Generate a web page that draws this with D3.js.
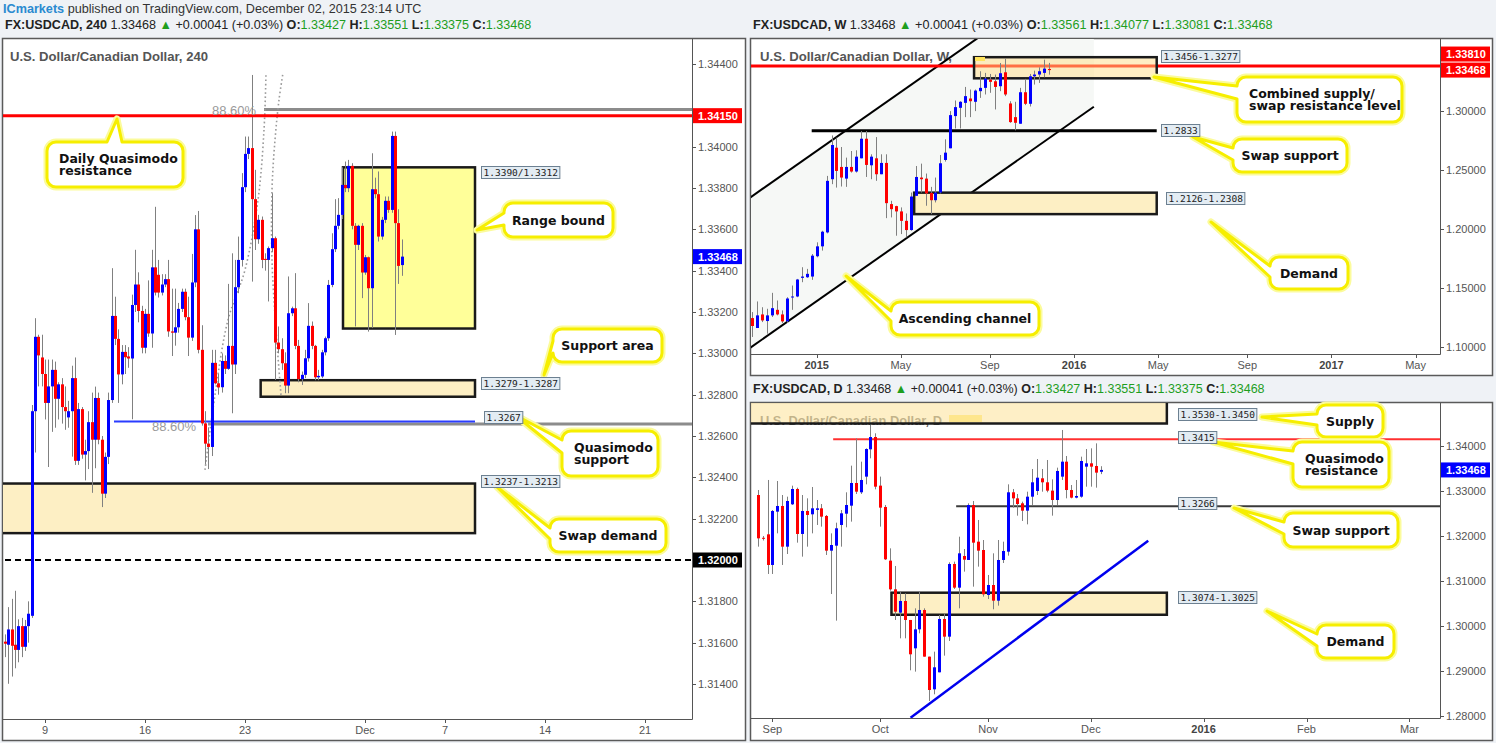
<!DOCTYPE html>
<html>
<head>
<meta charset="utf-8">
<script src="https://cdn.jsdelivr.net/npm/d3@7"></script>
<style>
html,body{margin:0;padding:0;background:#eff2f6;}
svg{display:block;}
</style>
</head>
<body>
<svg id="chart" width="1496" height="743"></svg>
<script>
// ======================= DATA =======================
// 4H candles (USDCAD, ~Nov 5 - Dec 2 2015)
const h4Open  = [1.31605,1.31590,1.31664,1.31590,1.31565,1.31680,1.31580,1.31680,1.31730,1.32720,1.33080,1.32980,1.32900,1.32760,1.32840,1.32920,1.32780,1.32850,1.32740,1.32690,1.32720,1.32880,1.32480,1.32730,1.32510,1.32527,1.32667,1.32582,1.32784,1.32582,1.32321,1.32499,1.32774,1.33181,1.33070,1.32898,1.33007,1.32985,1.32975,1.33234,1.33333,1.33205,1.33027,1.33191,1.33096,1.33416,1.33380,1.33294,1.33333,1.33359,1.33106,1.33100,1.33126,1.33215,1.33298,1.33175,1.33076,1.33343,1.33600,1.33017,1.32661,1.32563,1.32547,1.32954,1.32855,1.32836,1.32963,1.32925,1.33036,1.32946,1.33320,1.33452,1.33804,1.33965,1.33993,1.33746,1.33552,1.33646,1.33457,1.33452,1.33509,1.33557,1.33052,1.33020,1.32952,1.32844,1.33194,1.33218,1.33036,1.32875,1.32896,1.32976,1.33133,1.33036,1.32884,1.32888,1.33005,1.33073,1.33331,1.33504,1.33617,1.33670,1.33815,1.33799,1.33907,1.33617,1.33525,1.33617,1.33391,1.33465,1.33315,1.33794,1.33770,1.33565,1.33646,1.33738,1.33694,1.34052,1.33630,1.33427];
const h4High  = [1.31640,1.31772,1.31812,1.31851,1.31713,1.31720,1.31710,1.31800,1.32750,1.33170,1.33090,1.33090,1.32970,1.32970,1.32970,1.32960,1.32860,1.32880,1.32840,1.32770,1.32940,1.32980,1.32760,1.32740,1.32582,1.32720,1.32810,1.32839,1.32810,1.32600,1.32520,1.32810,1.33412,1.33274,1.33116,1.33040,1.33040,1.33030,1.33284,1.33501,1.33392,1.33230,1.33215,1.33353,1.33501,1.33709,1.33452,1.33383,1.33383,1.33452,1.33313,1.33313,1.33244,1.33313,1.33313,1.33274,1.33481,1.33669,1.33689,1.33136,1.32720,1.32642,1.33017,1.33017,1.32900,1.33000,1.32990,1.33336,1.33484,1.33452,1.33565,1.33872,1.34049,1.34049,1.34347,1.33888,1.33670,1.33662,1.33484,1.33517,1.33775,1.33565,1.33130,1.33073,1.33005,1.33372,1.33226,1.33388,1.33065,1.32912,1.33017,1.33243,1.33154,1.33041,1.32920,1.33017,1.33081,1.33355,1.33581,1.33746,1.33751,1.33900,1.33928,1.33936,1.33920,1.33630,1.33622,1.33630,1.33476,1.33468,1.33968,1.33850,1.33880,1.33660,1.33759,1.33759,1.34073,1.34073,1.33697,1.33551];
const h4Low   = [1.31530,1.31401,1.31436,1.31476,1.31505,1.31530,1.31560,1.31600,1.31720,1.32520,1.32840,1.32840,1.32680,1.32450,1.32620,1.32640,1.32680,1.32660,1.32630,1.32640,1.32500,1.32460,1.32460,1.32490,1.32385,1.32440,1.32325,1.32444,1.32560,1.32256,1.32300,1.32464,1.32760,1.33040,1.32760,1.32850,1.32900,1.32930,1.32681,1.33200,1.33150,1.33000,1.33000,1.33080,1.33027,1.33280,1.33270,1.33280,1.33320,1.33080,1.32987,1.33037,1.33100,1.33200,1.33160,1.32987,1.33060,1.33320,1.33000,1.32650,1.32464,1.32440,1.32503,1.32850,1.32800,1.32810,1.32900,1.32920,1.32710,1.32900,1.33291,1.33420,1.33780,1.33940,1.33347,1.33500,1.33530,1.33412,1.33400,1.33251,1.33490,1.32871,1.33000,1.32920,1.32807,1.32807,1.33180,1.33020,1.32860,1.32847,1.32880,1.32960,1.33020,1.32870,1.32870,1.32880,1.32990,1.33060,1.33320,1.33490,1.33600,1.33650,1.33780,1.33780,1.33600,1.33130,1.33500,1.33267,1.33380,1.33105,1.33122,1.33750,1.33541,1.33550,1.33630,1.33680,1.33680,1.33089,1.33336,1.33375];
const h4Close = [1.31595,1.31664,1.31585,1.31565,1.31680,1.31580,1.31680,1.31740,1.32720,1.33080,1.32990,1.32900,1.32760,1.32840,1.32920,1.32780,1.32850,1.32740,1.32720,1.32720,1.32880,1.32480,1.32730,1.32510,1.32527,1.32667,1.32582,1.32784,1.32582,1.32321,1.32499,1.32774,1.33181,1.33070,1.32898,1.33007,1.32981,1.32975,1.33234,1.33333,1.33205,1.33027,1.33191,1.33096,1.33416,1.33294,1.33294,1.33333,1.33359,1.33106,1.33100,1.33126,1.33215,1.33298,1.33175,1.33076,1.33343,1.33600,1.33017,1.32661,1.32563,1.32547,1.32954,1.32855,1.32835,1.32963,1.32925,1.33036,1.32946,1.33320,1.33452,1.33804,1.33965,1.33993,1.33746,1.33552,1.33646,1.33452,1.33452,1.33509,1.33557,1.33052,1.33020,1.32952,1.32844,1.33194,1.33218,1.33036,1.32875,1.32896,1.32976,1.33133,1.33036,1.32884,1.32891,1.33005,1.33073,1.33331,1.33504,1.33617,1.33670,1.33815,1.33799,1.33907,1.33617,1.33525,1.33617,1.33391,1.33465,1.33315,1.33794,1.33770,1.33565,1.33646,1.33738,1.33694,1.34052,1.33630,1.33423,1.33468];
const h4TickLabels = ["9","16","23","Dec","7","14","21"];
const h4TickIdx    = [12,42,72,108,132,162,192];
const h4PriceTicks = [1.314,1.316,1.318,1.320,1.322,1.324,1.326,1.328,1.330,1.332,1.334,1.336,1.338,1.340,1.342,1.344];

// Weekly candles (Oct 2014 - Nov 30 2015)
const wkOpen  = [1.1245,1.1161,1.1276,1.1220,1.1268,1.1315,1.1276,1.1217,1.1422,1.1428,1.1586,1.1591,1.1597,1.1769,1.1853,1.1971,1.2422,1.2689,1.2526,1.2427,1.2526,1.2487,1.2599,1.2765,1.2540,1.2599,1.2464,1.2560,1.2211,1.2194,1.2149,1.2069,1.1991,1.2281,1.2436,1.2427,1.2306,1.2244,1.2309,1.2585,1.2684,1.2957,1.3027,1.3069,1.3106,1.3078,1.3168,1.3196,1.3266,1.3252,1.3210,1.3328,1.3064,1.2948,1.2892,1.3159,1.3061,1.3294,1.3309,1.3323,1.33561];
const wkHigh  = [1.1296,1.1386,1.1337,1.1324,1.1459,1.1394,1.1310,1.1422,1.1521,1.1577,1.1676,1.1662,1.1788,1.1887,1.1985,1.2450,1.2793,1.2774,1.2695,1.2605,1.2661,1.2667,1.2830,1.2830,1.2633,1.2779,1.2633,1.2633,1.2239,1.2197,1.2183,1.2132,1.2309,1.2534,1.2554,1.2470,1.2357,1.2436,1.2627,1.2760,1.2999,1.3089,1.3083,1.3204,1.3182,1.3182,1.3337,1.3323,1.3314,1.3309,1.3407,1.3444,1.3083,1.3078,1.3196,1.3272,1.3314,1.3342,1.3370,1.3435,1.34077];
const wkLow   = [1.1085,1.1161,1.1211,1.1113,1.1254,1.1268,1.1203,1.1203,1.1315,1.1422,1.1549,1.1586,1.1569,1.1760,1.1817,1.1963,1.2380,1.2351,1.2360,1.2357,1.2478,1.2478,1.2599,1.2441,1.2422,1.2408,1.2464,1.2092,1.2098,1.1943,1.1957,1.1929,1.1985,1.2281,1.2309,1.2197,1.2126,1.2225,1.2301,1.2571,1.2684,1.2852,1.2852,1.2948,1.2948,1.2999,1.3111,1.3140,1.3154,1.3013,1.3168,1.3126,1.2900,1.2836,1.2892,1.3050,1.3038,1.3224,1.3238,1.3286,1.33081];
const wkClose = [1.1178,1.1268,1.1225,1.1268,1.1329,1.1276,1.1217,1.1411,1.1428,1.1572,1.1597,1.1620,1.1774,1.1853,1.1977,1.2408,1.2712,1.2492,1.2436,1.2526,1.2487,1.2613,1.2765,1.2543,1.2613,1.2464,1.2560,1.2219,1.2168,1.2149,1.2069,1.1991,1.2275,1.2441,1.2422,1.2301,1.2244,1.2309,1.2557,1.2647,1.2965,1.3033,1.3078,1.3126,1.3083,1.3173,1.3196,1.3275,1.3247,1.3204,1.3320,1.3140,1.2906,1.2900,1.3159,1.3061,1.3294,1.3309,1.3337,1.3359,1.33468];
const wkTickLabels = ["2015","May","Sep","2016","May","Sep","2017","May"];
const wkTickIdx    = [13,30,48,65,82,100,117,134];
const wkPriceTicks = [1.10,1.15,1.20,1.25,1.30];

// Daily candles (Aug 27 - Dec 3 2015)
const dOpen  = [1.32911,1.31960,1.32037,1.31356,1.32541,1.32667,1.31763,1.32704,1.33045,1.32045,1.32556,1.32482,1.32580,1.32615,1.32445,1.31674,1.31785,1.32245,1.32496,1.32674,1.33178,1.32971,1.33319,1.33926,1.34200,1.33119,1.32645,1.31452,1.30815,1.30297,1.30556,1.30134,1.29504,1.29926,1.30356,1.29319,1.28593,1.28971,1.30156,1.29763,1.31378,1.30852,1.31556,1.31467,1.32689,1.31874,1.31689,1.30689,1.30911,1.30563,1.31467,1.31652,1.32971,1.32837,1.32726,1.32563,1.32874,1.33000,1.33282,1.33193,1.33008,1.32800,1.33319,1.33652,1.33022,1.32852,1.32874,1.33541,1.33615,1.33556,1.33427];
const dHigh  = [1.33022,1.32000,1.33245,1.32578,1.33222,1.32911,1.32874,1.33119,1.33074,1.32911,1.32837,1.33089,1.32800,1.32711,1.32467,1.32059,1.32296,1.32578,1.32971,1.33563,1.34170,1.33652,1.33948,1.34467,1.34282,1.33320,1.32689,1.31726,1.31334,1.30763,1.30726,1.30134,1.30393,1.30778,1.30393,1.29319,1.29430,1.30245,1.30282,1.31415,1.31430,1.31985,1.31711,1.32726,1.32778,1.32356,1.31911,1.31134,1.31615,1.31911,1.31874,1.33148,1.33045,1.32934,1.32763,1.32985,1.33489,1.33711,1.33489,1.33689,1.33259,1.33519,1.34356,1.33778,1.33133,1.33245,1.33763,1.33933,1.33948,1.34059,1.33551];
const dLow   = [1.31763,1.31900,1.31156,1.31156,1.32059,1.31356,1.31600,1.32689,1.31852,1.31541,1.31763,1.32059,1.32245,1.32208,1.31578,1.30711,1.30119,1.31763,1.32193,1.32319,1.32934,1.32934,1.33148,1.33726,1.33037,1.32208,1.31467,1.30785,1.30134,1.29726,1.29726,1.29015,1.28986,1.29837,1.29319,1.28334,1.28482,1.28971,1.29341,1.29667,1.30822,1.30393,1.31208,1.31467,1.30874,1.31319,1.30652,1.30600,1.30371,1.30452,1.31400,1.31563,1.32630,1.32452,1.32334,1.32259,1.32689,1.32911,1.32985,1.32971,1.32452,1.32689,1.33245,1.32837,1.32837,1.32837,1.32852,1.33096,1.33096,1.33074,1.33375];
const dClose = [1.31948,1.31940,1.31356,1.32556,1.32667,1.31763,1.32778,1.33045,1.32045,1.32556,1.32467,1.32615,1.32615,1.32430,1.31674,1.31800,1.32171,1.32504,1.32689,1.33178,1.32985,1.33245,1.33933,1.34200,1.33096,1.32630,1.31482,1.30815,1.30319,1.30556,1.30134,1.29371,1.29926,1.30356,1.29319,1.28578,1.29082,1.30156,1.29763,1.31378,1.30852,1.31615,1.31474,1.32689,1.31852,1.31674,1.30704,1.30911,1.30563,1.31467,1.31667,1.32971,1.32837,1.32711,1.32563,1.32874,1.33193,1.33296,1.33193,1.33008,1.32800,1.33445,1.33652,1.33022,1.32852,1.32889,1.33667,1.33615,1.33541,1.33408,1.33468];
const dTickLabels = ["Sep","Oct","Nov","Dec","2016","Feb","Mar"];
const dTickIdx    = [3,25,47,68,91,112,133];
const dPriceTicks = [1.28,1.29,1.30,1.31,1.32,1.33,1.34];

// Levels / zones
const h4Zones   = [[1.3390,1.3312],[1.3287,1.3279],[1.3237,1.3213]];   // range, support area, swap demand
const h4Lines   = [1.3415, 1.3418, 1.32658, 1.3267, 1.3200];           // QM res, 88.6 upper, 88.6 lower, QM support, round
const wkZones   = [[1.3456,1.3277],[1.2308,1.2126]];
const wkLines   = [1.3381, 1.2833];
const wkChannelUpper = [[-0.5,1.2265],[45,1.3602]];
const wkChannelLower = [[-0.5,1.0991],[69,1.3036]];
const dZones    = [[1.3530,1.3450],[1.3074,1.3025]];
const dLines    = [1.3415, 1.3266];
const dTrend    = [[31.2,1.27962],[79.7,1.31896]];
const lastPrice = 1.33468;

// ======================= RENDER =======================
const svg = d3.select('#chart');
const FONT = "'Liberation Sans', Arial, sans-serif";
const CFONT = "'DejaVu Sans', Verdana, sans-serif";
const MONO = "'DejaVu Sans Mono', 'Liberation Mono', monospace";
const UP = '#0000ff', DOWN = '#ff0000', WICK = '#808080';
const GREEN = '#1e9e1e';
const f5 = d3.format('.5f');

svg.append('rect').attr('width',1496).attr('height',743).attr('fill','#eff2f6');

function fitWidth(t, w) {
  t.attr('textLength', w).attr('lengthAdjust','spacingAndGlyphs');
}
// rich text stretched horizontally to a target width via a group transform
function richText(x, y, parts, targetW) {
  const g = svg.append('g');
  const t = g.append('text').attr('x',0).attr('y',0)
    .attr('font-family',FONT).attr('font-size',13).attr('style','white-space:pre');
  parts.forEach(p => t.append('tspan').text(p[0]).attr('fill',p[1]||'#222').attr('font-weight',p[2]||'normal'));
  const w = t.node().getComputedTextLength() || targetW;
  const s = targetW ? targetW / w : 1;
  g.attr('transform', `translate(${x},${y}) scale(${s},1)`);
  return g;
}
function legend(x, y, sym, o, h, l, c, w) {
  richText(x, y, [[sym,'#222','bold'],[' 1.33468 ','#222'],['\u25B2',GREEN],[' +0.00041 (+0.03%) ','#222'],
    ['O:','#222','bold'],[o,GREEN],[' H:','#222','bold'],[h,GREEN],[' L:','#222','bold'],[l,GREEN],[' C:','#222','bold'],[c,GREEN]], w);
}
richText(3, 12.5, [['ICmarkets','#2a8ad0','bold'],[' published on TradingView.com, December 02, 2015 23:14 UTC','#333']], 419);
legend(5, 28.5, 'FX:USDCAD, 240', '1.33427','1.33551','1.33375','1.33468', 527);
legend(753, 28.5, 'FX:USDCAD, W', '1.33561','1.34077','1.33081','1.33468', 520);
legend(753, 392.5, 'FX:USDCAD, D', '1.33427','1.33551','1.33375','1.33468', 512);

function panel(id, outer, plot) {
  svg.append('rect').attr('x',outer.x+0.5).attr('y',outer.y+0.5).attr('width',outer.w).attr('height',outer.h)
    .attr('fill','#fff').attr('stroke','#5a5a5a').attr('stroke-width',1.5);
  svg.append('clipPath').attr('id','clip-'+id).append('rect')
    .attr('x',plot.x0).attr('y',plot.y0).attr('width',plot.x1-plot.x0).attr('height',plot.y1-plot.y0);
  return svg.append('g').attr('clip-path',`url(#clip-${id})`);
}

function drawCandles(g, O, Hh, Lo, C, x, y, bw) {
  const idx = d3.range(O.length);
  g.append('g').selectAll('line').data(idx).join('line')
    .attr('x1', i => Math.round(x(i)) + 0.5).attr('x2', i => Math.round(x(i)) + 0.5)
    .attr('y1', i => y(Hh[i])).attr('y2', i => y(Lo[i]))
    .attr('stroke', WICK).attr('stroke-width', 1);
  g.append('g').selectAll('rect').data(idx).join('rect')
    .attr('x', i => Math.round(x(i)) + 0.5 - bw/2)
    .attr('y', i => y(Math.max(O[i], C[i])))
    .attr('width', bw)
    .attr('height', i => Math.max(1, Math.abs(y(O[i]) - y(C[i]))))
    .attr('fill', i => C[i] >= O[i] ? UP : DOWN);
}

function zone(g, x, y, i0, i1, top, bot, fill, op) {
  g.append('rect').attr('x', x(i0)).attr('y', y(top)).attr('width', x(i1)-x(i0)).attr('height', y(bot)-y(top))
    .attr('fill', fill).attr('fill-opacity', op==null?1:op).attr('stroke','#1a1a1a').attr('stroke-width',2.5);
}
function hline(g, x, y, i0, i1, v, color, w, dash) {
  const l = g.append('line').attr('x1', x(i0)).attr('x2', x(i1)).attr('y1', y(v)).attr('y2', y(v))
    .attr('stroke', color).attr('stroke-width', w);
  if (dash) l.attr('stroke-dasharray', dash);
}

function axes(plot, x, y, priceTicks, tags, tIdx, tLabels, bold, right) {
  svg.append('line').attr('x1',plot.x1+0.5).attr('x2',plot.x1+0.5).attr('y1',plot.y0).attr('y2',plot.y1+0.5).attr('stroke','#555');
  svg.append('line').attr('x1',plot.x0).attr('x2',plot.x1+0.5).attr('y1',plot.y1+0.5).attr('y2',plot.y1+0.5).attr('stroke','#555');
  const tagYs = tags.map(t => y(t.v) + (t.off||0));
  priceTicks.forEach(v => {
    const yy = y(v);
    if (yy < plot.y0 + 3 || yy > plot.y1 + 4) return;
    if (tagYs.some(t => Math.abs(t - yy) < 12)) return;
    svg.append('line').attr('x1',plot.x1).attr('x2',plot.x1+4).attr('y1',Math.round(yy)+0.5).attr('y2',Math.round(yy)+0.5).attr('stroke','#555');
    svg.append('text').attr('x',plot.x1+6).attr('y',yy).attr('dy','0.35em').attr('font-family',FONT).attr('font-size',11).attr('fill','#555').text(f5(v));
  });
  tags.forEach((t,k) => {
    const yy = tagYs[k];
    svg.append('rect').attr('x',plot.x1+1).attr('y',yy-7.5).attr('width',right-plot.x1-1).attr('height',15).attr('fill',t.c);
    svg.append('text').attr('x',plot.x1+6).attr('y',yy).attr('dy','0.36em').attr('font-family',FONT).attr('font-size',11)
      .attr('font-weight','bold').attr('fill','#fff').text(f5(t.v));
  });
  tIdx.forEach((v,k) => {
    const xx = x(v);
    if (xx < plot.x0 || xx > plot.x1) return;
    svg.append('line').attr('x1',Math.round(xx)+0.5).attr('x2',Math.round(xx)+0.5).attr('y1',plot.y1).attr('y2',plot.y1+4).attr('stroke','#555');
    const isB = bold && /^\d{4}$/.test(tLabels[k]);
    svg.append('text').attr('x',xx).attr('y',plot.y1+11).attr('dy','0.35em').attr('text-anchor','middle')
      .attr('font-family',FONT).attr('font-size',11).attr('font-weight',isB?'bold':'normal').attr('fill',isB?'#444':'#555').text(tLabels[k]);
  });
}

function priceLabel(x, y, text) {
  const w = text.length * 5.72 + 4;
  svg.append('rect').attr('x',x+0.5).attr('y',y+0.5).attr('width',w).attr('height',12).attr('fill','#e3ecf3').attr('stroke','#6c8091');
  svg.append('text').attr('x',x+2.5).attr('y',y+6.8).attr('dy','0.35em').attr('font-family',MONO).attr('font-size',9.5).attr('fill','#222').text(text);
}

function calloutPath(x,y,w,h,r,side,a1,a2,tip){
  let p = `M${x+r},${y}`;
  if (side==='top') p += `L${x+a1},${y}L${tip[0]},${tip[1]}L${x+a2},${y}`;
  p += `L${x+w-r},${y}A${r},${r} 0 0 1 ${x+w},${y+r}`;
  p += `L${x+w},${y+h-r}A${r},${r} 0 0 1 ${x+w-r},${y+h}`;
  p += `L${x+r},${y+h}A${r},${r} 0 0 1 ${x},${y+h-r}`;
  if (side==='left') p += `L${x},${y+a2}L${tip[0]},${tip[1]}L${x},${y+a1}`;
  p += `L${x},${y+r}A${r},${r} 0 0 1 ${x+r},${y}Z`;
  return p;
}
function callout(c) {
  const d = calloutPath(c.x,c.y,c.w,c.h,9,c.side,c.a1,c.a2,c.tip);
  svg.append('path').attr('d',d).attr('fill','none').attr('stroke','#fbfb9c').attr('stroke-width',7).attr('stroke-linejoin','round');
  svg.append('path').attr('d',d).attr('fill','#fff').attr('stroke','#f6ee00').attr('stroke-width',3).attr('stroke-linejoin','round');
  const lh = 12.5, n = c.lines.length;
  c.lines.forEach((s,k) => {
    svg.append('text')
      .attr('x', c.align==='start' ? c.x + 12 : c.x + c.w/2)
      .attr('y', c.y + c.h/2 + (k - (n-1)/2) * lh)
      .attr('dy','0.36em').attr('text-anchor', c.align==='start' ? 'start' : 'middle')
      .attr('font-family',CFONT).attr('font-size',12.5).attr('font-weight','bold').attr('fill','#111').text(s);
  });
}

// ---------------- LEFT: 4H ----------------
const Lp = {x0:3, y0:39, x1:692, y1:719};
const gL = panel('L', {x:2, y:38, w:743, h:702}, Lp);
const xL = d3.scaleLinear().domain([0,120]).range([5, 405]);
const yL = d3.scaleLinear().domain([1.3200,1.3440]).range([560, 64]);

fitWidth(svg.append('text').attr('x',10).attr('y',56).attr('dy','0.35em').attr('font-family',FONT).attr('font-size',13)
  .attr('font-weight','bold').attr('fill','#555').text('U.S. Dollar/Canadian Dollar, 240'), 198);

zone(gL, xL, yL, 101.4, 141, h4Zones[0][0], h4Zones[0][1], '#ffff99');
zone(gL, xL, yL, 76.7, 141, h4Zones[1][0], h4Zones[1][1], '#fdefc4');
zone(gL, xL, yL, -3, 141, h4Zones[2][0], h4Zones[2][1], '#fdefc4');
hline(gL, xL, yL, 77.7, 210, h4Lines[1], '#8c8c8c', 3);
hline(gL, xL, yL, 60.9, 210, h4Lines[2], '#8c8c8c', 3);
hline(gL, xL, yL, 32.7, 141, h4Lines[3], '#2a3cff', 2);
hline(gL, xL, yL, -3, 210, h4Lines[4], '#000', 2, '6,4');
// 88.6% fib dotted traces
const fibA = [[60,1.32436],[63,1.32799],[66.9,1.33162],[72,1.33404],[75.9,1.33742],[77.7,1.34081],[78.3,1.34357]];
const fibB = [[82.8,1.32799],[81.3,1.33113],[80.1,1.33452],[80.1,1.33791],[81,1.34033],[82.2,1.34226],[83.4,1.34357]];
const ln = d3.line().x(d => xL(d[0])).y(d => yL(d[1])).curve(d3.curveCatmullRom);
[fibA, fibB].forEach(f => gL.append('path').attr('d', ln(f)).attr('fill','none').attr('stroke','#9a9a9a')
  .attr('stroke-width',1.6).attr('stroke-dasharray','1.6,2.6'));
drawCandles(gL, h4Open, h4High, h4Low, h4Close, xL, yL, 3);
hline(gL, xL, yL, -3, 210, h4Lines[0], '#ff0000', 3);
gL.append('text').attr('x',212).attr('y',yL(h4Lines[1])+1).attr('dy','0.35em').attr('font-family',FONT).attr('font-size',13).attr('fill','#9a9a9a').text('88.60%');
gL.append('text').attr('x',152).attr('y',yL(h4Lines[3])+5).attr('dy','0.35em').attr('font-family',FONT).attr('font-size',13).attr('fill','#9a9a9a').text('88.60%');

axes(Lp, xL, yL, h4PriceTicks,
  [{v:1.3415,c:'#ff0000'},{v:lastPrice,c:'#0000ff'},{v:1.3200,c:'#000000'}],
  h4TickIdx, h4TickLabels, false, 742);

callout({x:47,y:142,w:136,h:45,side:'top',a1:60,a2:75,tip:[117,119],lines:['Daily Quasimodo','resistance'],align:'start'});
callout({x:504,y:203,w:109,h:34,side:'left',a1:10,a2:22,tip:[477,230],lines:['Range bound']});
callout({x:553,y:329,w:109,h:33,side:'left',a1:12,a2:24,tip:[544,375],lines:['Support area']});
callout({x:562,y:431,w:96,h:45,side:'left',a1:9,a2:22,tip:[515,415],lines:['Quasimodo','support'],align:'start'});
callout({x:550,y:519,w:116,h:33,side:'left',a1:9,a2:20,tip:[497,487],lines:['Swap demand']});

priceLabel(481, 166, '1.3390/1.3312');
priceLabel(481, 377, '1.3279-1.3287');
priceLabel(484, 411, '1.3267');
priceLabel(481, 475, '1.3237-1.3213');

// ---------------- TOP RIGHT: WEEKLY ----------------
const Wp = {x0:751, y0:39, x1:1440, y1:354};
const gW = panel('W', {x:750, y:38, w:742, h:337}, Wp);
const xW = d3.scaleLinear().domain([0,60]).range([752.3, 1049.3]);
const yW = d3.scaleLinear().domain([1.10,1.30]).range([347, 111]);

function extrap(pts, i) { const [a,b] = pts; return a[1] + (b[1]-a[1]) * (i - a[0]) / (b[0]-a[0]); }
const chI0 = -2, chI1 = wkChannelLower[1][0];
gW.append('path').attr('d', d3.line()([
    [xW(chI0), yW(extrap(wkChannelUpper, chI0))], [xW(chI1), yW(extrap(wkChannelUpper, chI1))],
    [xW(chI1), yW(wkChannelLower[1][1])], [xW(chI0), yW(extrap(wkChannelLower, chI0))]]) + 'Z')
  .attr('fill','#f6f8f6');
fitWidth(gW.append('text').attr('x',760).attr('y',56).attr('dy','0.35em').attr('font-family',FONT).attr('font-size',13)
  .attr('font-weight','bold').attr('fill','#555').text('U.S. Dollar/Canadian Dollar, W,'), 192);
gW.append('line').attr('x1',xW(chI0)).attr('y1',yW(extrap(wkChannelUpper,chI0))).attr('x2',xW(chI1)).attr('y2',yW(extrap(wkChannelUpper,chI1)))
  .attr('stroke','#000').attr('stroke-width',2);
gW.append('line').attr('x1',xW(chI0)).attr('y1',yW(extrap(wkChannelLower,chI0))).attr('x2',xW(chI1)).attr('y2',yW(wkChannelLower[1][1]))
  .attr('stroke','#000').attr('stroke-width',2);
hline(gW, xW, yW, 12, 81.7, wkLines[1], '#000', 3);
hline(gW, xW, yW, -3, 140, wkLines[0], '#ff0000', 3);
zone(gW, xW, yW, 44.8, 81.7, wkZones[0][0], wkZones[0][1], '#ffdd88', 0.5);
gW.append('rect').attr('x',975).attr('y',57).attr('width',10).attr('height',4).attr('fill','#ffe45c');
zone(gW, xW, yW, 32.7, 81.7, wkZones[1][0], wkZones[1][1], '#fdefc4');
drawCandles(gW, wkOpen, wkHigh, wkLow, wkClose, xW, yW, 3);

axes(Wp, xW, yW, wkPriceTicks,
  [{v:1.3381,c:'#ff0000',off:-12},{v:lastPrice,c:'#ff0000'}],
  wkTickIdx, wkTickLabels, true, 1490);

callout({x:1237,y:77,w:165,h:45,side:'left',a1:9,a2:22,tip:[1154,77],lines:['Combined supply/','swap resistance level'],align:'start'});
callout({x:1233,y:139,w:114,h:33,side:'left',a1:9,a2:21,tip:[1193,137],lines:['Swap support']});
callout({x:1270,y:257,w:78,h:32,side:'left',a1:9,a2:20,tip:[1211,222],lines:['Demand']});
callout({x:891,y:302,w:148,h:33,side:'left',a1:9,a2:19,tip:[846,276],lines:['Ascending channel']});

priceLabel(1161, 50, '1.3456-1.3277');
priceLabel(1161, 124, '1.2833');
priceLabel(1166, 192, '1.2126-1.2308');

// ---------------- BOTTOM RIGHT: DAILY ----------------
const Dp = {x0:751, y0:403, x1:1440, y1:718};
const gD = panel('D', {x:750, y:402, w:742, h:338}, Dp);
const xD = d3.scaleLinear().domain([0,70]).range([757.7, 1100.7]);
const yD = d3.scaleLinear().domain([1.28,1.34]).range([716, 446]);

fitWidth(gD.append('text').attr('x',760).attr('y',420).attr('dy','0.35em').attr('font-family',FONT).attr('font-size',13)
  .attr('font-weight','bold').attr('fill','#555').text('U.S. Dollar/Canadian Dollar, D'), 182);
gD.append('rect').attr('x',949).attr('y',415).attr('width',33).attr('height',7).attr('fill','#ffe45c');
zone(gD, xD, yD, -3, 83.5, dZones[0][0], dZones[0][1], '#fde7a8', 0.65);
zone(gD, xD, yD, 27.3, 83.5, dZones[1][0], dZones[1][1], '#fdefc4');
hline(gD, xD, yD, 15.4, 140, dLines[0], '#ff3030', 2);
hline(gD, xD, yD, 40.5, 140, dLines[1], '#3a3a3a', 2);
gD.append('line').attr('x1',xD(dTrend[0][0])).attr('y1',yD(dTrend[0][1])).attr('x2',xD(dTrend[1][0])).attr('y2',yD(dTrend[1][1]))
  .attr('stroke','#0000ee').attr('stroke-width',2.5);
drawCandles(gD, dOpen, dHigh, dLow, dClose, xD, yD, 3);

axes(Dp, xD, yD, dPriceTicks, [{v:lastPrice,c:'#0000ff'}], dTickIdx, dTickLabels, true, 1490);

callout({x:1317,y:405,w:66,h:32,side:'left',a1:9,a2:20,tip:[1262,417],lines:['Supply']});
callout({x:1293,y:442,w:96,h:45,side:'left',a1:9,a2:22,tip:[1213,442],lines:['Quasimodo','resistance'],align:'start'});
callout({x:1284,y:513,w:114,h:34,side:'left',a1:9,a2:21,tip:[1234,508],lines:['Swap support']});
callout({x:1317,y:625,w:77,h:33,side:'left',a1:9,a2:21,tip:[1267,611],lines:['Demand']});

priceLabel(1178, 408, '1.3530-1.3450');
priceLabel(1178, 431, '1.3415');
priceLabel(1178, 497, '1.3266');
priceLabel(1178, 591, '1.3074-1.3025');
</script>
</body>
</html>
